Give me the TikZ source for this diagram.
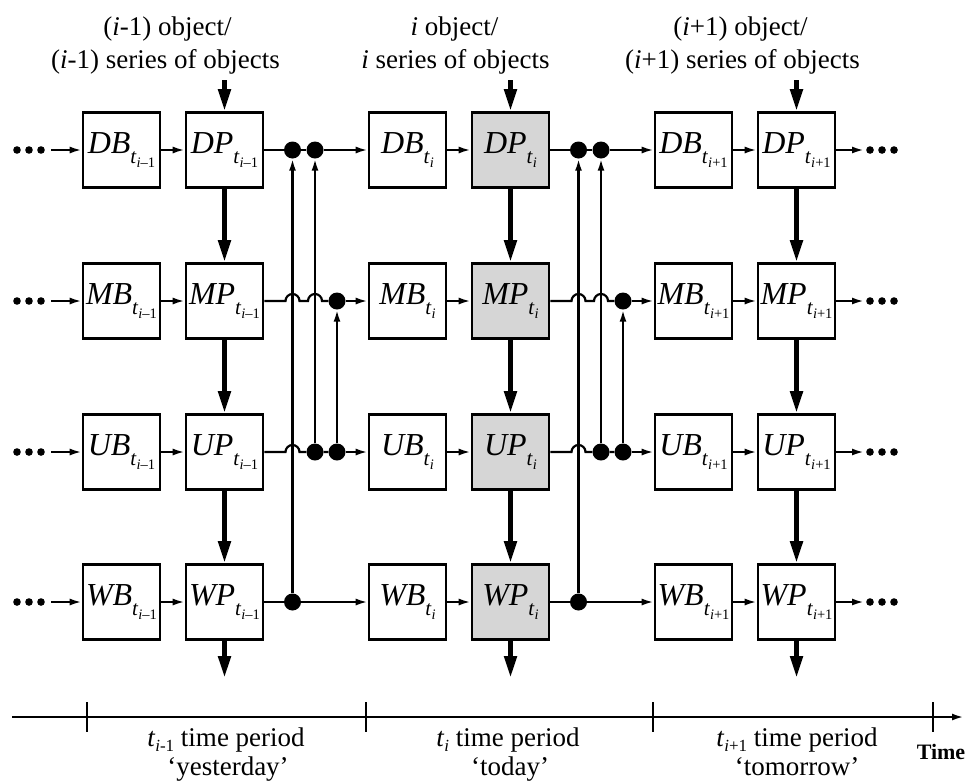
\documentclass[tikz,border=0pt]{standalone}
\usepackage{fontspec}
\setmainfont{Liberation Serif}
\usepackage{tikz}
\usetikzlibrary{positioning, arrows.meta, calc}
\definecolor{pgray}{RGB}{214,214,214}

% box label with a two level subscript t_{...}
\newcommand{\boxlab}[2]{\textit{#1}\raisebox{-0.32em}{\fontsize{21}{21}\selectfont\textit{t}\raisebox{-0.2em}{\fontsize{14.5}{14.5}\selectfont#2}}}
\newcommand{\tlab}[1]{\textit{t}\raisebox{-0.22em}{\fontsize{17}{17}\selectfont#1}}

\begin{document}
\begin{tikzpicture}[x=1pt, y=1pt,
    every node/.style={font=\fontsize{27}{33}\selectfont},
    bbox/.style={draw, line width=2.6pt, minimum width=77pt, minimum height=75pt, inner sep=0pt, font=\fontsize{32}{32}\selectfont},
    pbox/.style={bbox, fill=pgray},
    jdot/.style={circle, fill=black, minimum size=17pt, inner sep=0pt},
    thinln/.style={line width=2.2pt},
    thinarr/.style={line width=2.2pt, -{Latex[length=12pt,width=7pt]}},
    thickarr/.style={line width=4.8pt, -{Triangle[length=22pt,width=12pt]}}]
    \useasboundingbox (0,0) rectangle (968,-780);

    % Boxes of the three time periods
    \foreach \k/\xb/\sbs/\pst in {1/121.5/{\textit{i}–1}/bbox, 2/407.5/{\textit{i}}/pbox, 3/693.5/{\textit{i}+1}/bbox} {
      \foreach \rw/\y in {D/150, M/301, U/452, W/602} {
        \node[bbox] (\rw B\k) at (\xb,-\y) {\boxlab{\rw B}{\sbs}};
        \node[\pst] (\rw P\k) at (\xb+103,-\y) {\boxlab{\rw P}{\sbs}};
        \draw[thinarr] (\rw B\k) -- (\rw P\k);
      }
      \draw[thickarr] (DP\k) -- (MP\k);
      \draw[thickarr] (MP\k) -- (UP\k);
      \draw[thickarr] (UP\k) -- (WP\k);
      \coordinate (in\k) at (\xb+103,-80);
      \coordinate (out\k) at (\xb+103,-678);
      \draw[thickarr] (in\k) -- (DP\k);
      \draw[thickarr] (WP\k) -- (out\k);
    }

    % Objects on top
    \node[anchor=base] (obj1a) at (167.5,-35) {(\textit{i}-1) object/};
    \node[anchor=base] (obj1b) at (165.5,-68) {(\textit{i}-1) series of objects};
    \node[anchor=base] (obj2a) at (454.5,-35) {\textit{i} object/};
    \node[anchor=base] (obj2b) at (455.5,-68) {\textit{i} series of objects};
    \node[anchor=base] (obj3a) at (740.5,-35) {(\textit{i}+1) object/};
    \node[anchor=base] (obj3b) at (742.5,-68) {(\textit{i}+1) series of objects};

    % Junctions between periods
    \foreach \k/\xb in {1/121.5, 2/407.5} {
      \pgfmathtruncatemacro\kn{\k+1}
      \node[jdot] (Da\k) at (\xb+171,-150) {};
      \node[jdot] (Db\k) at (\xb+193.5,-150) {};
      \node[jdot] (Mc\k) at (\xb+215.5,-301) {};
      \node[jdot] (Ub\k) at (\xb+193.5,-452) {};
      \node[jdot] (Uc\k) at (\xb+215.5,-452) {};
      \node[jdot] (Wa\k) at (\xb+171,-602) {};
      \draw[thinarr] (Wa\k) -- (Da\k);
      \draw[thinarr] (Ub\k) -- (Db\k);
      \draw[thinarr] (Uc\k) -- (Mc\k);
      \draw[thinln] (DP\k) -- (Da\k) -- (Db\k);
      \draw[thinarr] (Db\k) -- (DB\kn);
      \draw[thinln] (MP\k) -- (\xb+164,-301) arc[start angle=180, end angle=0, radius=7pt]
        -- (\xb+186.5,-301) arc[start angle=180, end angle=0, radius=7pt] -- (Mc\k);
      \draw[thinarr] (Mc\k) -- (MB\kn);
      \draw[thinln] (UP\k) -- (\xb+164,-452) arc[start angle=180, end angle=0, radius=7pt] -- (Ub\k) -- (Uc\k);
      \draw[thinarr] (Uc\k) -- (UB\kn);
      \draw[thinln] (WP\k) -- (Wa\k);
      \draw[thinarr] (Wa\k) -- (WB\kn);
    }

    % Dots on both sides
    \foreach \rw/\y in {D/150, M/301, U/452, W/602} {
      \coordinate (l\rw) at (51,-\y);
      \coordinate (r\rw) at (864,-\y);
      \draw[thinarr] (l\rw) -- (\rw B1);
      \draw[thinarr] (\rw P3) -- (r\rw);
      \foreach \x in {17,29,41,870,882,894} {
        \fill (\x,-\y) circle (3.8pt);
      }
    }

    % Time axis
    \coordinate (tl0) at (12,-717);
    \coordinate (tlE) at (964,-717);
    \draw[line width=2.4pt, -{Latex[length=12pt,width=7pt]}] (tl0) -- (tlE);
    \foreach \x in {87,366,653,933} {
      \draw[line width=2.4pt] (\x,-702) -- (\x,-732);
    }
    \node[anchor=base] (per1a) at (226,-746) {\tlab{\textit{i}-1} time period};
    \node[anchor=base] (per1b) at (228,-775) {‘yesterday’};
    \node[anchor=base] (per2a) at (508,-746) {\tlab{\textit{i}} time period};
    \node[anchor=base] (per2b) at (510,-775) {‘today’};
    \node[anchor=base] (per3a) at (797,-746) {\tlab{\textit{i}+1} time period};
    \node[anchor=base] (per3b) at (797,-775) {‘tomorrow’};
    \node[anchor=base, font=\fontsize{22}{22}\selectfont\bfseries] (time) at (941,-759) {Time};
\end{tikzpicture}
\end{document}
